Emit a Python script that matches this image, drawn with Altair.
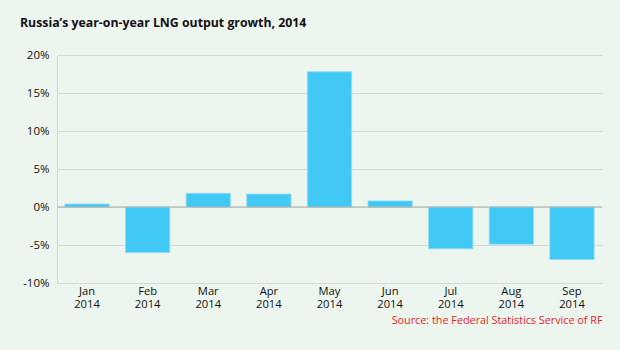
import altair as alt
import pandas as pd

months = ["Jan 2014", "Feb 2014", "Mar 2014", "Apr 2014", "May 2014",
          "Jun 2014", "Jul 2014", "Aug 2014", "Sep 2014"]
growth = [0.4, -6.0, 1.8, 1.7, 17.8, 0.8, -5.5, -4.9, -6.9]
y_ticks = [-10, -5, 0, 5, 10, 15, 20]

df = pd.DataFrame({"month": months, "growth": growth})
FONT = "Open Sans"
BG = "#edf5ef"

y_axis = alt.Axis(title=None, values=y_ticks,
                  labelExpr="datum.value + '%'",
                  labelFont=FONT, labelFontSize=11.5, labelColor="#111",
                  labelPadding=8, ticks=False, labelOverlap=False,
                  domain=True, domainColor="#cfd6d1",
                  grid=True, gridColor="#d3dad5")
y_scale = alt.Scale(domain=[-10, 20], nice=False)

bars = alt.Chart(df).mark_bar(color="#42c8f4", stroke="#8fdcf6", strokeWidth=0.8).encode(
    x=alt.X("month:N", sort=months,
            scale=alt.Scale(paddingInner=0.27, paddingOuter=0.13),
            axis=alt.Axis(title="Source: the Federal Statistics Service of RF",
                          titleColor="#e8231d", titleFontWeight="normal",
                          titleFont=FONT, titleFontSize=10.8, titleAnchor="end",
                          titlePadding=5,
                          labelExpr="split(datum.label, ' ')", labelAngle=0,
                          labelFont=FONT, labelFontSize=11.2, labelColor="#111",
                          labelPadding=2, labelLineHeight=13,
                          ticks=False, domain=False, grid=False)),
    y=alt.Y("growth:Q", scale=y_scale, axis=y_axis),
)

zero = alt.Chart(pd.DataFrame({"growth": [0]})).mark_rule(color="#a9aeaa", strokeWidth=1.2).encode(
    y=alt.Y("growth:Q", scale=y_scale, axis=y_axis)
)

chart = (bars + zero).properties(
    width=545, height=228,
    title=alt.TitleParams("Russia\u2019s year-on-year LNG output growth, 2014",
                          anchor="start", frame="group", font=FONT, fontSize=12.3,
                          fontWeight="bold", color="#111", dx=-37, offset=20),
    autosize=alt.AutoSizeParams(type="none"),
    padding={"left": 57, "top": 55, "right": 18, "bottom": 67},
    background=BG,
).configure_view(stroke=None)

chart.save("out.html", embed_options={"renderer": "svg", "actions": False})
